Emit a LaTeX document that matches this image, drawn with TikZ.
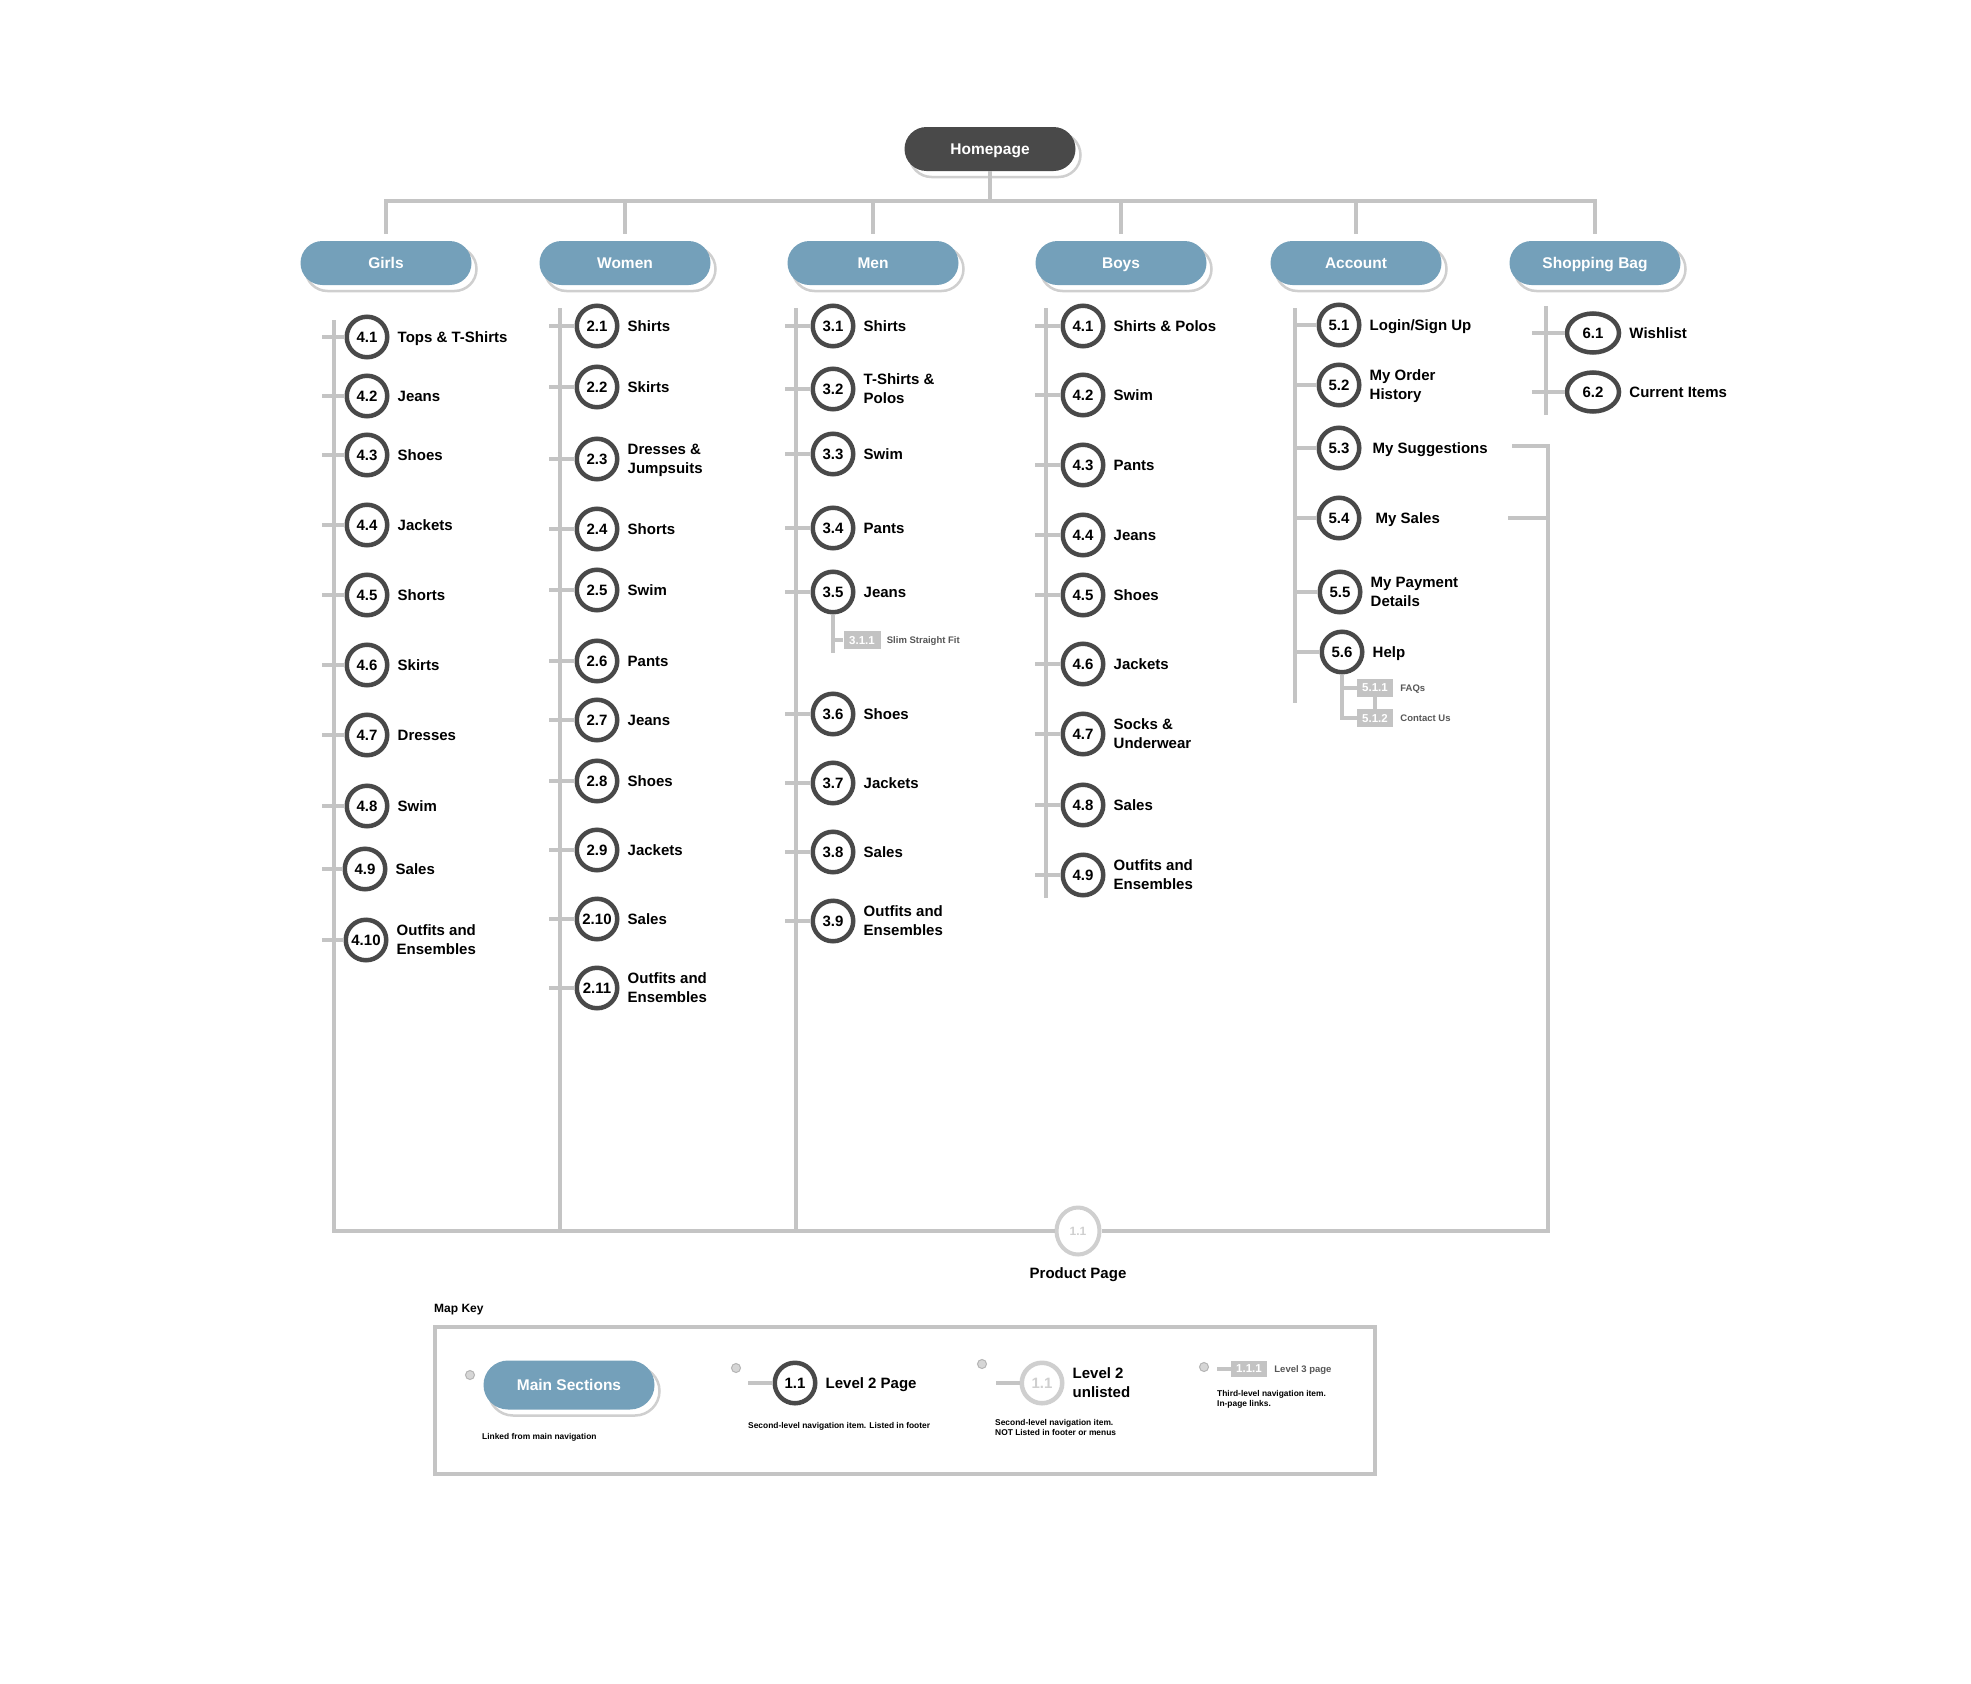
\documentclass[tikz,border=0pt]{standalone}
\usepackage{fontspec}
\setmainfont{Liberation Sans}
\usetikzlibrary{shapes.geometric,positioning}

\definecolor{inkdark}{HTML}{494949}
\definecolor{sectionblue}{HTML}{74A0BA}
\definecolor{wiregray}{HTML}{C4C4C4}
\definecolor{shadowgray}{HTML}{CFCFCF}
\definecolor{tagfill}{HTML}{C3C3C3}
\definecolor{notegray}{HTML}{575757}
\definecolor{dotfill}{HTML}{D6D6D6}
\definecolor{dotline}{HTML}{B5B5B5}

\newcommand\bfsz[2]{\fontsize{#1}{#2}\selectfont\bfseries}

\tikzset{
  wire/.style={draw=wiregray, line width=3.2pt},
  pillshade/.style={draw=shadowgray, line width=2.5pt},
  pill/.style={rectangle, minimum width=171pt, inner sep=0pt, text depth=0pt, text=white, font=\bfsz{15.5}{18}},
  homepill/.style={pill, fill=inkdark},
  secpill/.style={pill, fill=sectionblue},
  pagecirc/.style={circle, draw=inkdark, line width=4.5pt, fill=white, minimum size=40.5pt, inner sep=0pt, font=\bfsz{15}{18}},
  pageoval/.style={ellipse, draw=inkdark, line width=4.5pt, fill=white, minimum width=52pt, minimum height=39pt, inner sep=0pt, font=\bfsz{15}{18}},
  ghostcirc/.style={ellipse, draw=shadowgray, line width=4pt, fill=white, minimum width=43pt, minimum height=47pt, inner sep=0pt, text=shadowgray, font=\bfsz{12}{14}},
  ghostkey/.style={pagecirc, draw=shadowgray, text=shadowgray},
  pagelabel/.style={inner sep=0pt, anchor=west, align=left, text depth=0pt, font=\bfsz{15}{19}},
  tag/.style={rectangle, fill=tagfill, minimum width=37pt, minimum height=18pt, inner sep=0pt, text depth=0pt, text=white, font=\bfsz{11.5}{13}},
  taglabel/.style={inner sep=0pt, anchor=west, text depth=0pt, text=notegray, font=\bfsz{9.5}{11}},
  note/.style={inner sep=0pt, anchor=west, align=left, font=\bfsz{8.4}{10}},
  keydot/.style={circle, draw=dotline, line width=1pt, fill=dotfill, minimum size=9pt, inner sep=0pt},
  keyframe/.style={rectangle, draw=wiregray, line width=3.5pt, minimum width=940pt, minimum height=147pt, inner sep=0pt},
}

% pill with an offset outline behind it: style, name, x, y, half height, text
\newcommand\shadedpill[6]{%
  \draw[pillshade, rounded corners=#5pt] ({#3-80.5},{#4-#5+6}) rectangle ({#3+90.5},{#4+#5+6});
  \node[#1, minimum height={2*#5pt}, rounded corners=#5pt] (#2) at (#3,#4) {#6};
}

% second-level page: [shape], tick start x, x, y, name, number, label
\newcommand\pagenode[7][pagecirc]{%
  \node[#1] (#5) at (#3,#4) {#6};
  \node[pagelabel, right=8pt of #5] (#5-l) {#7};
  \coordinate (#5-t) at (#2,#4);
  \draw[wire] (#5-t) -- (#5);
}

\begin{document}
\begin{tikzpicture}[x=1pt, y=-1pt]
\fill[white] (0,0) rectangle (1971,1684);
\useasboundingbox (0,0) rectangle (1971,1684);

% ---------- top level ----------
\shadedpill{homepill}{home}{990}{149}{22}{Homepage}
\shadedpill{secpill}{girls}{386}{263}{22}{Girls}
\shadedpill{secpill}{women}{625}{263}{22}{Women}
\shadedpill{secpill}{men}{873}{263}{22}{Men}
\shadedpill{secpill}{boys}{1121}{263}{22}{Boys}
\shadedpill{secpill}{account}{1356}{263}{22}{Account}
\shadedpill{secpill}{shop}{1595}{263}{22}{Shopping Bag}

\coordinate (topbus) at (990,201);
\draw[wire] (home.south) -- (topbus);
\draw[wire] ([yshift=7pt]girls.north) -- (girls.north |- topbus) -- (shop.north |- topbus) -- ([yshift=7pt]shop.north);
\foreach \s in {women,men,boys,account}
  \draw[wire] (\s.north |- topbus) -- ([yshift=7pt]\s.north);

% ---------- column spines and product page bus ----------
\node[ghostcirc] (pp) at (1078,1231) {1.1};
\node[pagelabel, anchor=center] (pp-l) at (1078,1273) {Product Page};

\coordinate (gtop) at (334,320);
\coordinate (busL) at (334,1231);
\coordinate (busR) at (1548,1231);
\coordinate (wtop) at (560,308);
\coordinate (mtop) at (796,308);
\coordinate (btop) at (1046,308);
\coordinate (bbot) at (1046,898);
\coordinate (atop) at (1295,308);
\coordinate (abot) at (1295,703);
\coordinate (stop) at (1546,306);
\coordinate (sbot) at (1546,415);
\coordinate (sugg) at (1512,446);
\coordinate (sales) at (1508,518);

\draw[wire] (gtop) -- (busL) -- (pp);
\draw[wire] (pp) -- (busR) |- (sugg);
\draw[wire] (sales) -- (sales -| busR);
\draw[wire] (wtop) -- (wtop |- busL);
\draw[wire] (mtop) -- (mtop |- busL);
\draw[wire] (btop) -- (bbot);
\draw[wire] (atop) -- (abot);
\draw[wire] (stop) -- (sbot);

% ---------- Girls ----------
\pagenode{322}{367}{337}{g1}{4.1}{Tops \& T-Shirts}
\pagenode{322}{367}{396}{g2}{4.2}{Jeans}
\pagenode{322}{367}{455}{g3}{4.3}{Shoes}
\pagenode{322}{367}{525}{g4}{4.4}{Jackets}
\pagenode{322}{367}{595}{g5}{4.5}{Shorts}
\pagenode{322}{367}{665}{g6}{4.6}{Skirts}
\pagenode{322}{367}{735}{g7}{4.7}{Dresses}
\pagenode{322}{367}{806}{g8}{4.8}{Swim}
\pagenode{322}{365}{869}{g9}{4.9}{Sales}
\pagenode{322}{366}{940}{g10}{4.10}{Outfits and\\Ensembles}

% ---------- Women ----------
\pagenode{549}{597}{326}{w1}{2.1}{Shirts}
\pagenode{549}{597}{387}{w2}{2.2}{Skirts}
\pagenode{549}{597}{459}{w3}{2.3}{Dresses \&\\Jumpsuits}
\pagenode{549}{597}{529}{w4}{2.4}{Shorts}
\pagenode{549}{597}{590}{w5}{2.5}{Swim}
\pagenode{549}{597}{661}{w6}{2.6}{Pants}
\pagenode{549}{597}{720}{w7}{2.7}{Jeans}
\pagenode{549}{597}{781}{w8}{2.8}{Shoes}
\pagenode{549}{597}{850}{w9}{2.9}{Jackets}
\pagenode{549}{597}{919}{w10}{2.10}{Sales}
\pagenode{549}{597}{988}{w11}{2.11}{Outfits and\\Ensembles}

% ---------- Men ----------
\pagenode{785}{833}{326}{m31}{3.1}{Shirts}
\pagenode{785}{833}{389}{m32}{3.2}{T-Shirts \&\\Polos}
\pagenode{785}{833}{454}{m33}{3.3}{Swim}
\pagenode{785}{833}{528}{m34}{3.4}{Pants}
\pagenode{785}{833}{592}{m35}{3.5}{Jeans}
\pagenode{785}{833}{714}{m36}{3.6}{Shoes}
\pagenode{785}{833}{783}{m37}{3.7}{Jackets}
\pagenode{785}{833}{852}{m38}{3.8}{Sales}
\pagenode{785}{833}{921}{m39}{3.9}{Outfits and\\Ensembles}

\node[tag] (m311) at (862,640) {3.1.1};
\node[taglabel, right=6pt of m311] (m311-l) {Slim Straight Fit};
\coordinate (m35end) at (833,653);
\draw[wire] (m35) -- (m35end);
\draw[wire] (m311.west -| m35) -- (m311);

% ---------- Boys ----------
\pagenode{1035}{1083}{326}{b1}{4.1}{Shirts \& Polos}
\pagenode{1035}{1083}{395}{b2}{4.2}{Swim}
\pagenode{1035}{1083}{465}{b3}{4.3}{Pants}
\pagenode{1035}{1083}{535}{b4}{4.4}{Jeans}
\pagenode{1035}{1083}{595}{b5}{4.5}{Shoes}
\pagenode{1035}{1083}{664}{b6}{4.6}{Jackets}
\pagenode{1035}{1083}{734}{b7}{4.7}{Socks \&\\Underwear}
\pagenode{1035}{1083}{805}{b8}{4.8}{Sales}
\pagenode{1035}{1083}{875}{b9}{4.9}{Outfits and\\Ensembles}

% ---------- Account ----------
\pagenode{1295}{1339}{325}{a51}{5.1}{Login/Sign Up}
\pagenode{1295}{1339}{385}{a52}{5.2}{My Order\\History}
\pagenode{1295}{1339}{448}{a53}{5.3}{\hspace*{3pt}My Suggestions}
\pagenode{1295}{1339}{518}{a54}{5.4}{\hspace*{6pt}My Sales}
\pagenode{1295}{1340}{592}{a55}{5.5}{My Payment\\Details}
\pagenode{1295}{1342}{652}{a56}{5.6}{Help}

\node[tag, minimum width=36pt] (a511) at (1375,688) {5.1.1};
\node[tag, minimum width=36pt] (a512) at (1375,718) {5.1.2};
\node[taglabel, right=7pt of a511] (a511-l) {FAQs};
\node[taglabel, right=7pt of a512] (a512-l) {Contact Us};
\draw[wire] (a56) |- (a512);
\draw[wire] (a511.west -| a56) -- (a511);
\draw[wire] (a511) -- (a512);

% ---------- Shopping Bag ----------
\pagenode[pageoval]{1532}{1593}{333}{s61}{6.1}{Wishlist}
\pagenode[pageoval]{1532}{1593}{392}{s62}{6.2}{Current Items}

% ---------- map key ----------
\node[anchor=west, inner sep=0pt, font=\bfsz{12}{14}] (keytitle) at (434,1310) {Map Key};
\node[keyframe] (keybox) at (905,1400.5) {};

\node[keydot] (d1) at (470,1375) {};
\shadedpill{secpill}{kmain}{569}{1385}{24.5}{Main Sections}
\node[note] (kmain-n) at (482,1437) {Linked from main navigation};

\node[keydot] (d2) at (736,1368) {};
\node[pagecirc] (k2) at (795,1383) {1.1};
\coordinate (k2-t) at (748,1383);
\draw[wire] (k2-t) -- (k2);
\node[pagelabel, right=8pt of k2] (k2-l) {Level 2 Page};
\node[note] (k2-n) at (748,1426) {Second-level navigation item. Listed in footer};

\node[keydot] (d3) at (982,1364) {};
\node[ghostkey] (ku) at (1042,1383) {1.1};
\coordinate (ku-t) at (996,1383);
\draw[wire] (ku-t) -- (ku);
\node[pagelabel, right=8pt of ku] (ku-l) {Level 2\\unlisted};
\node[note] (ku-n) at (995,1427) {Second-level navigation item.\\NOT Listed in footer or menus};

\node[keydot] (d4) at (1204,1367) {};
\node[tag, minimum width=36pt, minimum height=16pt] (k3) at (1249,1369) {1.1.1};
\coordinate (k3-t) at (1217,1369);
\draw[wire] (k3-t) -- (k3);
\node[taglabel, right=7pt of k3] (k3-l) {Level 3 page};
\node[note] (k3-n) at (1217,1399) {Third-level navigation item.\\In-page links.};
\end{tikzpicture}
\end{document}
